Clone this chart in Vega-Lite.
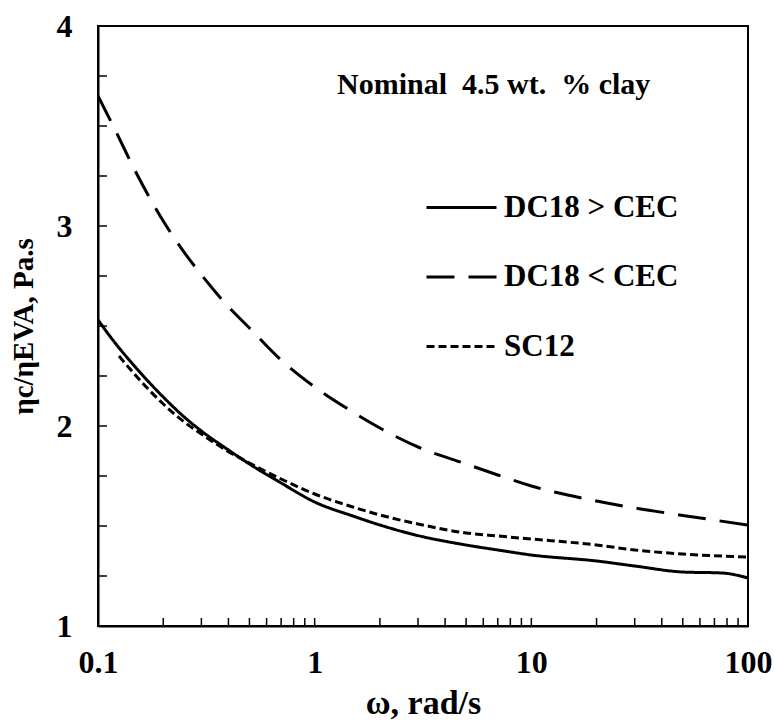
{
  "$schema": "https://vega.github.io/schema/vega-lite/v6.json",
  "autosize": {"type": "none"},
  "width": 650,
  "height": 600,
  "padding": {"left": 98, "top": 26, "right": 26, "bottom": 94},
  "background": "white",
  "config": {
    "view": {"stroke": "black", "strokeWidth": 2},
    "font": "Liberation Serif"
  },
  "datasets": {
    "curves": [
      {"s": "DC18 > CEC", "w": 0.1, "v": 2.53},
      {"s": "DC18 > CEC", "w": 0.12, "v": 2.415},
      {"s": "DC18 > CEC", "w": 0.15, "v": 2.29},
      {"s": "DC18 > CEC", "w": 0.2, "v": 2.145},
      {"s": "DC18 > CEC", "w": 0.25, "v": 2.045},
      {"s": "DC18 > CEC", "w": 0.3, "v": 1.975},
      {"s": "DC18 > CEC", "w": 0.4, "v": 1.88},
      {"s": "DC18 > CEC", "w": 0.5, "v": 1.81},
      {"s": "DC18 > CEC", "w": 0.7, "v": 1.715},
      {"s": "DC18 > CEC", "w": 1.0, "v": 1.62},
      {"s": "DC18 > CEC", "w": 1.5, "v": 1.55},
      {"s": "DC18 > CEC", "w": 2.0, "v": 1.505},
      {"s": "DC18 > CEC", "w": 3.0, "v": 1.452},
      {"s": "DC18 > CEC", "w": 5.0, "v": 1.405},
      {"s": "DC18 > CEC", "w": 7.0, "v": 1.38},
      {"s": "DC18 > CEC", "w": 10, "v": 1.355},
      {"s": "DC18 > CEC", "w": 20, "v": 1.325},
      {"s": "DC18 > CEC", "w": 30, "v": 1.3},
      {"s": "DC18 > CEC", "w": 50, "v": 1.27},
      {"s": "DC18 > CEC", "w": 76, "v": 1.265},
      {"s": "DC18 > CEC", "w": 100, "v": 1.24},
      {"s": "DC18 < CEC", "w": 0.1, "v": 3.65},
      {"s": "DC18 < CEC", "w": 0.12, "v": 3.48},
      {"s": "DC18 < CEC", "w": 0.15, "v": 3.266},
      {"s": "DC18 < CEC", "w": 0.2, "v": 3.025},
      {"s": "DC18 < CEC", "w": 0.25, "v": 2.868},
      {"s": "DC18 < CEC", "w": 0.3, "v": 2.756},
      {"s": "DC18 < CEC", "w": 0.4, "v": 2.596},
      {"s": "DC18 < CEC", "w": 0.5, "v": 2.49},
      {"s": "DC18 < CEC", "w": 0.7, "v": 2.33},
      {"s": "DC18 < CEC", "w": 1.0, "v": 2.195},
      {"s": "DC18 < CEC", "w": 1.5, "v": 2.07},
      {"s": "DC18 < CEC", "w": 2.0, "v": 1.99},
      {"s": "DC18 < CEC", "w": 3.0, "v": 1.895},
      {"s": "DC18 < CEC", "w": 5.0, "v": 1.81},
      {"s": "DC18 < CEC", "w": 7.0, "v": 1.755},
      {"s": "DC18 < CEC", "w": 10, "v": 1.70},
      {"s": "DC18 < CEC", "w": 20, "v": 1.625},
      {"s": "DC18 < CEC", "w": 30, "v": 1.59},
      {"s": "DC18 < CEC", "w": 50, "v": 1.553},
      {"s": "DC18 < CEC", "w": 100, "v": 1.505},
      {"s": "SC12", "w": 0.125, "v": 2.35},
      {"s": "SC12", "w": 0.15, "v": 2.25},
      {"s": "SC12", "w": 0.2, "v": 2.11},
      {"s": "SC12", "w": 0.25, "v": 2.02},
      {"s": "SC12", "w": 0.3, "v": 1.96},
      {"s": "SC12", "w": 0.4, "v": 1.872},
      {"s": "SC12", "w": 0.5, "v": 1.815},
      {"s": "SC12", "w": 0.7, "v": 1.735},
      {"s": "SC12", "w": 1.0, "v": 1.66},
      {"s": "SC12", "w": 1.5, "v": 1.595},
      {"s": "SC12", "w": 2.0, "v": 1.555},
      {"s": "SC12", "w": 3.0, "v": 1.51},
      {"s": "SC12", "w": 5.0, "v": 1.465},
      {"s": "SC12", "w": 7.0, "v": 1.45},
      {"s": "SC12", "w": 10, "v": 1.435},
      {"s": "SC12", "w": 20, "v": 1.405},
      {"s": "SC12", "w": 30, "v": 1.38},
      {"s": "SC12", "w": 50, "v": 1.36},
      {"s": "SC12", "w": 100, "v": 1.345}
    ],
    "xticks": [
      {"t": 0.2}, {"t": 0.3}, {"t": 0.4}, {"t": 0.5}, {"t": 0.6}, {"t": 0.7}, {"t": 0.8}, {"t": 0.9}, {"t": 1},
      {"t": 2}, {"t": 3}, {"t": 4}, {"t": 5}, {"t": 6}, {"t": 7}, {"t": 8}, {"t": 9}, {"t": 10},
      {"t": 20}, {"t": 30}, {"t": 40}, {"t": 50}, {"t": 60}, {"t": 70}, {"t": 80}, {"t": 90}
    ],
    "yticks": [
      {"t": 1.25}, {"t": 1.5}, {"t": 1.75}, {"t": 2}, {"t": 2.25}, {"t": 2.5}, {"t": 2.75},
      {"t": 3}, {"t": 3.25}, {"t": 3.5}, {"t": 3.75}
    ],
    "note": [
      {"label": "Nominal\u00a0\u00a04.5 wt.\u00a0\u00a0% clay"}
    ]
  },
  "layer": [
    {
      "data": {"name": "curves"},
      "mark": {"type": "line", "color": "black", "strokeWidth": 3, "interpolate": "monotone", "clip": true},
      "encoding": {
        "x": {
          "field": "w", "type": "quantitative",
          "scale": {"type": "log", "domain": [0.1, 100], "nice": false},
          "axis": {
            "title": "ω, rad/s",
            "values": [0.1, 1, 10, 100],
            "format": "~g",
            "grid": false,
            "ticks": false,
            "domainColor": "black", "domainWidth": 2,
            "labelFont": "Liberation Serif", "labelFontWeight": "bold", "labelFontSize": 32, "labelColor": "black",
            "labelPadding": 21, "labelFlush": false, "labelOverlap": false,
            "titleFont": "Liberation Serif", "titleFontWeight": "bold", "titleFontSize": 34, "titleColor": "black",
            "titlePadding": 8
          }
        },
        "y": {
          "field": "v", "type": "quantitative",
          "scale": {"domain": [1, 4], "nice": false, "zero": false},
          "axis": {
            "title": "ηc/ηEVA,  Pa.s",
            "values": [1, 2, 3, 4],
            "format": "d",
            "grid": false,
            "ticks": false,
            "domainColor": "black", "domainWidth": 2,
            "labelFont": "Liberation Serif", "labelFontWeight": "bold", "labelFontSize": 32, "labelColor": "black",
            "labelPadding": 26, "labelFlush": false, "labelOverlap": false,
            "titleFont": "Liberation Serif", "titleFontWeight": "bold", "titleFontSize": 29, "titleColor": "black",
            "titlePadding": 18
          }
        },
        "strokeDash": {
          "field": "s", "type": "nominal",
          "scale": {"domain": ["DC18 > CEC", "DC18 < CEC", "SC12"], "range": [[1, 0], [28, 14], [8, 4]]},
          "legend": {
            "title": null,
            "orient": "none",
            "legendX": 327,
            "legendY": 145,
            "symbolType": "stroke",
            "symbolSize": 4900,
            "symbolStrokeWidth": 3,
            "symbolStrokeColor": "black",
            "labelFont": "Liberation Serif", "labelFontWeight": "bold", "labelFontSize": 31, "labelColor": "black",
            "labelOffset": 6,
            "labelLimit": 400,
            "rowPadding": 17.5,
            "padding": 0
          }
        }
      }
    },
    {
      "data": {"name": "xticks"},
      "mark": {"type": "rule", "color": "black", "strokeWidth": 1.5},
      "encoding": {
        "x": {"field": "t", "type": "quantitative"},
        "y": {"datum": 1, "type": "quantitative"},
        "y2": {"datum": 1.04}
      }
    },
    {
      "data": {"name": "yticks"},
      "mark": {"type": "rule", "color": "black", "strokeWidth": 1.5},
      "encoding": {
        "y": {"field": "t", "type": "quantitative"},
        "x": {"datum": 0.1, "type": "quantitative"},
        "x2": {"datum": 0.11}
      }
    },
    {
      "data": {"name": "note"},
      "mark": {"type": "text", "font": "Liberation Serif", "fontWeight": "bold", "fontSize": 30, "color": "black", "align": "center", "baseline": "middle"},
      "encoding": {
        "x": {"datum": 6.7, "type": "quantitative"},
        "y": {"datum": 3.705, "type": "quantitative"},
        "text": {"field": "label", "type": "nominal"}
      }
    }
  ]
}
